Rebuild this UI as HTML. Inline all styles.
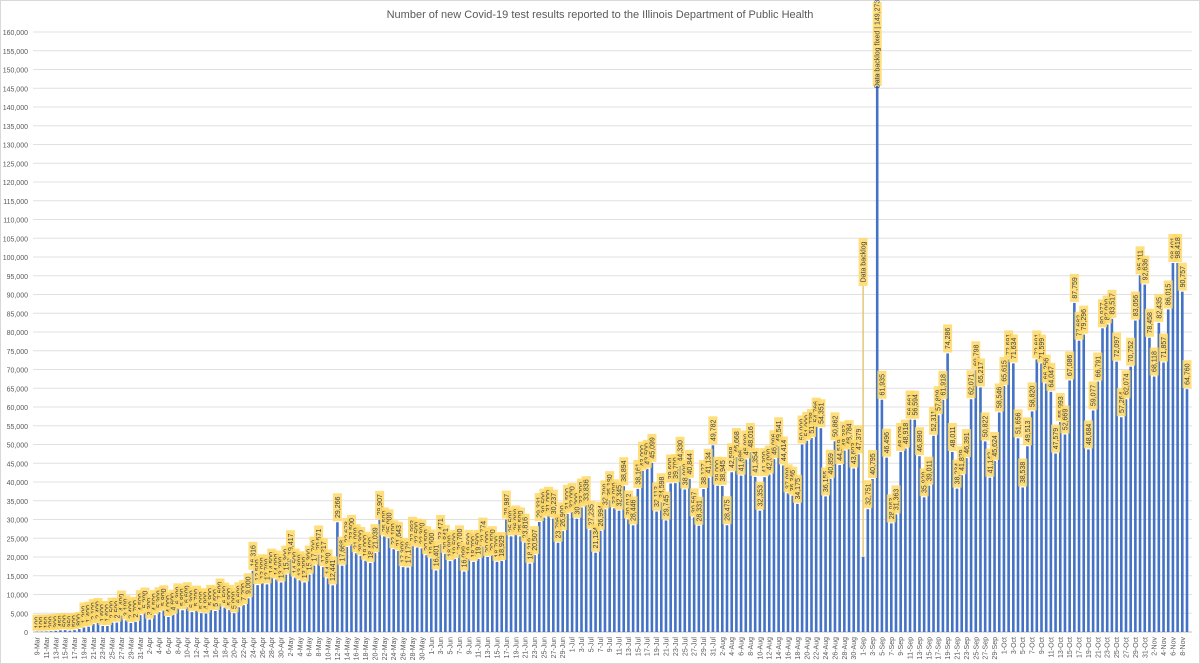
<!DOCTYPE html>
<html><head><meta charset="utf-8"><style>
html,body{margin:0;padding:0;background:#fff;}
svg{display:block;font-family:"Liberation Sans",sans-serif;}
</style></head><body>
<svg id="chart" width="1200" height="664" viewBox="0 0 1200 664">
<rect x="0.5" y="0.5" width="1199" height="663" fill="#fff" stroke="#d9d9d9"/>
<text x="600" y="18" text-anchor="middle" font-size="11" fill="#595959">Number of new Covid-19 test results reported to the Illinois Department of Public Health</text>
<g id="grid"></g><g id="bars"></g><g id="labels"></g><g id="xaxis"></g>
</svg>
<script>
const startDate = [2020, 2, 9];
const yTicks = [0,5000,10000,15000,20000,25000,30000,35000,40000,45000,50000,55000,60000,65000,70000,75000,80000,85000,90000,95000,100000,105000,110000,115000,120000,125000,130000,135000,140000,145000,150000,155000,160000];
const marVals = [100,100,150,200,300,450,500,350,500,800,1200,1400,2100,2400,1600,1600,2500,2500,4400,3100,2400,2700,4500];
const aprVals = [5200,3300,4500,5300,5800,4000,4600,6300,5800,6600,5300,5700,5000,4900,5900,5600,7600,6500,5900,5000,6600,7200,9000,16316,12500,13000,12700,14500,14000,13200];
const mayVals = [15300,19417,14500,13800,13200,15300,17700,20671,17317,14300,12441,29266,17668,22678,23500,21000,20300,19000,18400,21039,29907,25500,25000,22100,21643,17300,17179,22993,22500,22300,20500];
const junVals = [19600,16401,23471,20841,18900,19500,20700,16099,19500,18700,19500,22774,20000,20500,18700,18929,29987,25500,26000,25500,23816,18219,20507,29331,30500,31000,30237,23796,26900,31500];
const julVals = [32000,30200,33200,33836,27235,21134,26994,32700,35180,33000,32345,38894,30012,28446,38161,43000,43500,45099,32113,34598,29745,39600,39700,44330,38000,40844,30567,28331,38127,41134,49782];
const augVals = [39000,38945,28475,42598,46668,41686,46000,48016,41354,32353,41300,42000,46096,49541,44414,37000,36346,34175,50000,51000,51738,54766,54351,36155,40859,50862,44519,48383,48784,43603,47379];
const sepNovVals = [20000,32751,40795,149273,61935,46496,28963,31363,48029,48918,56661,56594,46890,35920,39011,52311,57809,61918,74286,48011,38234,41829,46391,62071,69798,65217,50822,41142,45624,58546,65615,72691,71634,51656,38538,49513,58820,72691,71599,66256,64047,47579,55993,52669,67086,87759,77682,79296,48684,59077,66791,80977,82000,83517,72097,57264,62074,70752,83056,95111,92636,78458,68118,82435,71857,86015,98401,98418,90757,64760];
const values = [].concat(marVals,aprVals,mayVals,junVals,julVals,augVals,sepNovVals);
const specialLabels = {"1-Sep":"Data backlog","4-Sep":"Data backlog fixed | "};
const months = ["Jan","Feb","Mar","Apr","May","Jun","Jul","Aug","Sep","Oct","Nov","Dec"];
const categories = values.map((v,i)=>{const d=new Date(startDate[0],startDate[1],startDate[2]+i);return d.getDate()+"-"+months[d.getMonth()];});

const NS="http://www.w3.org/2000/svg";
const X0=37, X1=1187, Y0=632, Y1=32, YMAX=160000;
const step=(X1-X0)/(values.length-1);
const xs=i=>X0+i*step;
const ys=v=>Y0-(v/YMAX)*(Y0-Y1);
const fmt=v=>v.toLocaleString("en-US");
function mk(tag,attrs,parent){const e=document.createElementNS(NS,tag);for(const k in attrs)e.setAttribute(k,attrs[k]);parent.appendChild(e);return e;}
const grid=document.getElementById("grid"),bars=document.getElementById("bars"),labels=document.getElementById("labels"),xaxis=document.getElementById("xaxis");

yTicks.forEach(t=>{
  const y=ys(t);
  const l=mk("line",{x1:33,x2:1192,y1:y,y2:y,stroke:t===0?"#bfbfbf":"#e0e0e0","stroke-width":1},grid);
  
  
  const tx=mk("text",{x:28,y:y+3,"text-anchor":"end","font-size":7,fill:"#595959"},grid);
  tx.textContent=fmt(t);
  
  
});

values.forEach((v,i)=>{
  const x=xs(i), y=ys(v), cat=categories[i];
  const r=mk("rect",{x:x-1.3,y:y,width:2.6,height:Y0-y,fill:"#4472c4"},bars);
  
  
  let txt=fmt(v), top, h;
  if(specialLabels[cat]!==undefined){
    txt=specialLabels[cat]+(cat==="4-Sep"?fmt(v):"");
    if(cat==="4-Sep"){top=2;h=84;}
    else{top=238;h=48;
      const ln=mk("line",{x1:x,x2:x,y1:top+h,y2:y,stroke:"#e6c77a","stroke-width":1.5},labels);
      
      }
  } else { h=txt.length*4+4; top=y-h-1; }
  const g=mk("g",{},labels);
  
  
  mk("rect",{x:x-4.5,y:top,width:9,height:h,fill:"#ffd966","fill-opacity":0.85},g);
  const t=mk("text",{x:0,y:0,"font-size":7,fill:"#404040","text-anchor":"middle",transform:`translate(${x+2.5},${top+h/2}) rotate(-90)`},g);
  t.textContent=txt;
  if(i%2===0){
    const xl=mk("text",{x:0,y:0,"font-size":7,fill:"#595959","text-anchor":"end",transform:`translate(${x+2.5},${637}) rotate(-90)`},xaxis);
    xl.textContent=cat;
    
    
  }
});
</script>
</body></html>
